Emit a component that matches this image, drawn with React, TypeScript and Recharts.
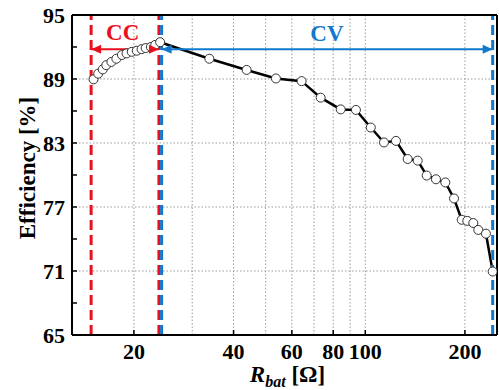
import React from 'react';
import {
  ComposedChart, Line, XAxis, YAxis, ReferenceLine, ReferenceDot, Label
} from 'recharts';

const FONT = "'Liberation Serif', 'Times New Roman', serif";
const RED = '#e8101c';
const BLUE = '#1278cc';

// constant-current region (open circles only)
const ccR = [15.1, 15.6, 16.1, 16.5, 17.1, 17.7, 18.4, 19.0, 19.7, 20.4, 21.1, 21.7, 22.5, 23.2];
const ccEff = [88.97, 89.5, 89.9, 90.3, 90.6, 90.9, 91.25, 91.4, 91.55, 91.65, 91.8, 91.9, 92.0, 92.2];

// constant-voltage region (line + circles)
const cvR = [24.0, 33.8, 43.8, 53.7, 64.2, 73.3, 84.3, 93.7, 103.9, 113.9, 123.8, 134.3, 144, 153.3, 163.5, 174.5, 185.4, 195.6, 203.3, 212, 219.5, 231.5, 242.6];
const cvEff = [92.45, 90.9, 89.85, 89.05, 88.8, 87.25, 86.15, 86.1, 84.45, 83.05, 83.2, 81.5, 81.35, 79.95, 79.6, 79.3, 77.8, 75.8, 75.7, 75.5, 74.85, 74.5, 70.95];

const xTicks = [20, 40, 60, 80, 100, 200];
const xGrid = [20, 30, 40, 50, 60, 70, 80, 90, 100, 200];
const yTicks = [65, 71, 77, 83, 89, 95];
const yMinor = [68, 74, 80, 86, 92];
const yGrid = [71, 77, 83, 89];

const ccBounds = [14.85, 23.8];
const cvBounds = [24.25, 242.6];
const arrowY = 91.8;

const ccData = ccR.map((r, i) => ({ r, eff: ccEff[i] }));
const cvData = cvR.map((r, i) => ({ r, eff: cvEff[i] }));
const yAllTicks = [...yTicks, ...yMinor].sort((a, b) => a - b);

const dotStyle = { r: 4.5, fill: '#fff', stroke: '#333', strokeWidth: 1 };

const arrowHead = (dir: number, color: string) => (props: any) => {
  const { cx, cy } = props;
  return (
    <polygon
      points={`${cx},${cy} ${cx - dir * 10},${cy - 4.5} ${cx - dir * 10},${cy + 4.5}`}
      fill={color}
    />
  );
};

const regionText = (text: string, color: string) => (props: any) => (
  <text x={props.cx} y={props.cy} textAnchor="middle" dominantBaseline="central"
    fontFamily={FONT} fontWeight="bold" fontSize={23} fill={color}>{text}</text>
);

export default function App() {
  return (
    <div>
      <style>{`body{margin:0;background:#fff}`}</style>
      <ComposedChart width={499} height={390} margin={{ top: 14, right: 0, left: 0, bottom: 0 }}>
        <XAxis
          dataKey="r" type="number" scale="log" domain={[13, 250]} allowDataOverflow
          ticks={xTicks} interval={0} height={55}
          stroke="#000" strokeWidth={2}
          tickSize={-5} tickMargin={13}
          tickLine={{ stroke: '#000', strokeWidth: 1.5 }}
          tick={{ fill: '#000', fontFamily: FONT, fontWeight: 'bold', fontSize: 22 }}
        >
          <Label content={(p: any) => {
            const vb = p.viewBox;
            const cx = vb.x + vb.width / 2 + 3;
            return (
              <text x={cx} y={vb.y + 47} textAnchor="middle" fontFamily={FONT} fontWeight="bold" fontSize={23} fill="#000">
                <tspan fontStyle="italic">R</tspan>
                <tspan fontStyle="italic" fontSize={16} dy={5}>bat</tspan>
                <tspan dy={-5}> [Ω]</tspan>
              </text>
            );
          }} />
        </XAxis>
        <XAxis
          xAxisId="top" orientation="top" type="number" scale="log" domain={[13, 250]} allowDataOverflow
          ticks={xTicks} interval={0} height={1}
          stroke="#000" strokeWidth={2}
          tickSize={-5} tickFormatter={() => ''}
          tickLine={{ stroke: '#000', strokeWidth: 1.5 }}
        />
        <YAxis
          type="number" domain={[65, 95]} ticks={yAllTicks} interval={0} width={72}
          stroke="#000" strokeWidth={2}
          tickSize={-5} tickMargin={12}
          tickFormatter={(v: number) => (yTicks.includes(v) ? String(v) : '')}
          tickLine={{ stroke: '#000', strokeWidth: 1.5 }}
          tick={{ fill: '#000', fontFamily: FONT, fontWeight: 'bold', fontSize: 22 }}
        >
          <Label content={(p: any) => {
            const vb = p.viewBox;
            const cy = vb.y + vb.height / 2 - 7;
            return (
              <text x={27} y={cy} transform={`rotate(-90, 27, ${cy})`} textAnchor="middle" dominantBaseline="central"
                fontFamily={FONT} fontWeight="bold" fontSize={23} fill="#000">Efficiency [%]</text>
            );
          }} />
        </YAxis>
        <YAxis yAxisId="right" orientation="right" type="number" domain={[65, 95]} width={2}
          stroke="#000" strokeWidth={2} tick={false} tickLine={false} />

        {xGrid.map((v) => (
          <ReferenceLine key={`gx${v}`} x={v} stroke="#999" strokeWidth={1} strokeDasharray="1.5 2" />
        ))}
        {yGrid.map((v) => (
          <ReferenceLine key={`gy${v}`} y={v} stroke="#999" strokeWidth={1} strokeDasharray="1.5 2" />
        ))}

        <Line data={ccData} dataKey="eff" stroke="none" dot={dotStyle} activeDot={false} isAnimationActive={false} />
        <Line data={cvData} dataKey="eff" type="linear" stroke="#000" strokeWidth={2.5} dot={dotStyle} activeDot={false} isAnimationActive={false} />

        <ReferenceLine x={ccBounds[0]} stroke={RED} strokeWidth={3} strokeDasharray="10 5" />
        <ReferenceLine x={ccBounds[1]} stroke={RED} strokeWidth={3} strokeDasharray="10 5" />
        <ReferenceLine x={cvBounds[0]} stroke={BLUE} strokeWidth={3} strokeDasharray="10 5" />
        <ReferenceLine x={cvBounds[1]} stroke={BLUE} strokeWidth={3} strokeDasharray="10 5" />

        <ReferenceLine segment={[{ x: ccBounds[0], y: arrowY }, { x: ccBounds[1], y: arrowY }]} stroke={RED} strokeWidth={2} />
        <ReferenceLine segment={[{ x: cvBounds[0], y: arrowY }, { x: cvBounds[1], y: arrowY }]} stroke={BLUE} strokeWidth={2} />
        <ReferenceDot x={ccBounds[0]} y={arrowY} shape={arrowHead(-1, RED)} />
        <ReferenceDot x={ccBounds[1]} y={arrowY} shape={arrowHead(1, RED)} />
        <ReferenceDot x={cvBounds[0]} y={arrowY} shape={arrowHead(-1, BLUE)} />
        <ReferenceDot x={cvBounds[1]} y={arrowY} shape={arrowHead(1, BLUE)} />
        <ReferenceDot x={18.5} y={93.4} shape={regionText('CC', RED)} />
        <ReferenceDot x={76.6} y={93.3} shape={regionText('CV', BLUE)} />
      </ComposedChart>
    </div>
  );
}
